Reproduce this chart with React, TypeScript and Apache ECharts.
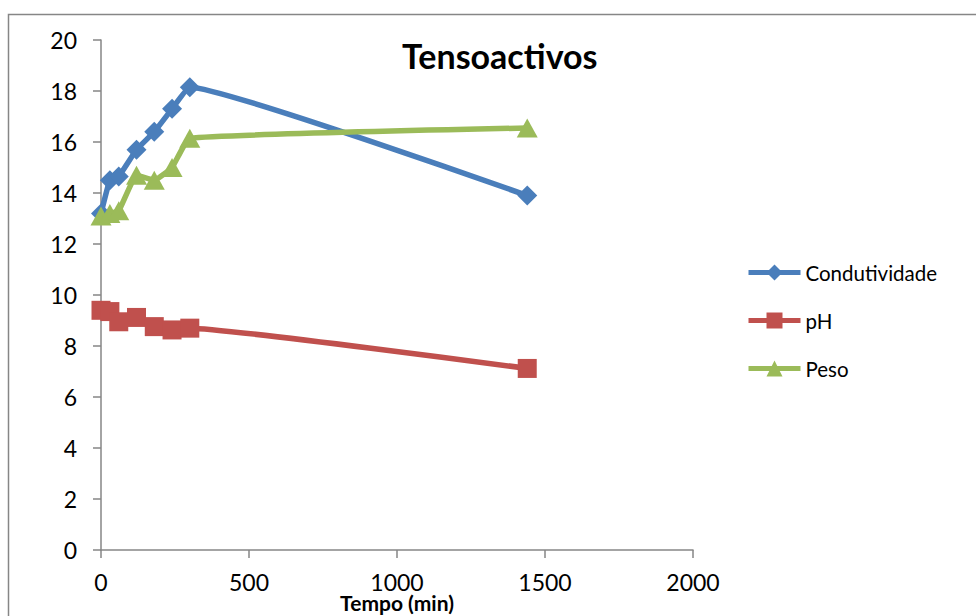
import React, { useEffect, useRef } from "react";
import * as echarts from "echarts";

// Time points (min) and measured series
const tempo = [0, 30, 60, 120, 180, 240, 300, 1440];
const condutividade = [13.2, 14.5, 14.65, 15.7, 16.4, 17.3, 18.15, 13.9];
const ph = [9.4, 9.35, 8.95, 9.12, 8.76, 8.63, 8.7, 7.12];
const peso = [13.1, 13.2, 13.3, 14.7, 14.5, 15.0, 16.15, 16.55];

const xTicks = { min: 0, max: 2000, interval: 500 };
const yTicks = { min: 0, max: 20, interval: 2 };

const FONT = "Lato, 'Open Sans', sans-serif";
const AXIS_GREY = "#868686";

const pairs = (ys: number[]) => tempo.map((t, i) => [t, ys[i]]);

export default function App() {
  const ref = useRef<HTMLDivElement>(null);

  useEffect(() => {
    if (!ref.current) return;
    const chart = echarts.init(ref.current, undefined, { renderer: "svg" });
    const lineSeries = (
      name: string,
      ys: number[],
      color: string,
      symbol: string,
      size: number | number[]
    ) => ({
      name,
      type: "line",
      data: pairs(ys),
      smooth: 0.1,
      symbol,
      symbolSize: size,
      showAllSymbol: true,
      lineStyle: { color, width: 5.5 },
      itemStyle: { color, borderWidth: 0 },
      emphasis: { disabled: true },
    });

    chart.setOption({
      animation: false,
      textStyle: { fontFamily: FONT },
      title: {
        text: "Tensoactivos",
        left: 402,
        top: 38,
        padding: 0,
        textStyle: { fontFamily: FONT, fontWeight: "bold", fontSize: 34, color: "#000" },
      },
      legend: {
        orient: "vertical",
        left: 746,
        top: 262,
        padding: 0,
        itemWidth: 52,
        itemHeight: 20,
        itemGap: 27,
        lineStyle: { width: 5 },
        textStyle: { fontFamily: FONT, fontSize: 20.5, color: "#000" },
        data: ["Condutividade", "pH", "Peso"],
      },
      grid: {
        left: 101,
        top: 40,
        right: 283,
        bottom: 66,
        containLabel: false,
        outerBoundsMode: "none",
      },
      xAxis: {
        type: "value",
        min: xTicks.min,
        max: xTicks.max,
        interval: xTicks.interval,
        name: "Tempo (min)",
        nameLocation: "middle",
        nameGap: 52.5,
        nameMoveOverlap: false,
        nameTextStyle: {
          fontFamily: FONT,
          fontWeight: "bold",
          fontSize: 21,
          lineHeight: 21,
          verticalAlign: "middle",
          color: "#000",
        },
        axisLine: { show: true, lineStyle: { color: AXIS_GREY, width: 1.5 } },
        axisTick: { show: true, length: 8, lineStyle: { color: AXIS_GREY, width: 1.5 } },
        axisLabel: {
          fontFamily: FONT,
          fontSize: 23,
          lineHeight: 20,
          color: "#000",
          margin: 22,
          formatter: (v: number) => String(v),
        },
        splitLine: { show: false },
      },
      yAxis: {
        type: "value",
        min: yTicks.min,
        max: yTicks.max,
        interval: yTicks.interval,
        axisLine: { show: true, lineStyle: { color: AXIS_GREY, width: 1.5 } },
        axisTick: { show: true, length: 8, lineStyle: { color: AXIS_GREY, width: 1.5 } },
        axisLabel: { fontFamily: FONT, fontSize: 23, color: "#000", margin: 24 },
        splitLine: { show: false },
      },
      graphic: [
        {
          type: "rect",
          shape: { x: 8.5, y: 14.5, width: 1100, height: 800 },
          style: { fill: "none", stroke: AXIS_GREY, lineWidth: 1.5 },
          silent: true,
          z: -1,
        },
      ],
      series: [
        lineSeries("Condutividade", condutividade, "#4A7EBB", "diamond", 20),
        lineSeries("pH", ph, "#C0504D", "rect", 19),
        lineSeries("Peso", peso, "#9BBB59", "triangle", [21, 19]),
      ],
    });
    return () => chart.dispose();
  }, []);

  return (
    <div
      ref={ref}
      style={{ position: "absolute", left: 0, top: 0, width: 976, height: 616, background: "#fff" }}
    />
  );
}
